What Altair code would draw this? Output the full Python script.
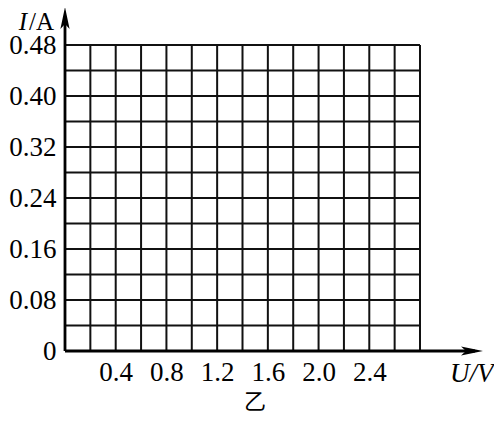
import altair as alt
import pandas as pd

# grid positions (U in volts, I in amperes)
x_grid = [0.0, 0.2, 0.4, 0.6, 0.8, 1.0, 1.2, 1.4, 1.6, 1.8, 2.0, 2.2, 2.4, 2.6, 2.8]
y_grid = [0.00, 0.04, 0.08, 0.12, 0.16, 0.20, 0.24, 0.28, 0.32, 0.36, 0.40, 0.44, 0.48]
x_ticks = [0.4, 0.8, 1.2, 1.6, 2.0, 2.4]
y_ticks = [0, 0.08, 0.16, 0.24, 0.32, 0.40, 0.48]

X_MAX = 2.8
Y_MAX = 0.48
W, H = 355, 306
FONT = "Liberation Serif"
INK = "#111111"

xs = alt.Scale(domain=[0, X_MAX], nice=False, zero=False)
ys = alt.Scale(domain=[0, Y_MAX], nice=False, zero=False)

vdf = pd.DataFrame({"x": x_grid, "y0": 0.0, "y1": Y_MAX})
hdf = pd.DataFrame({"y": y_grid, "x0": 0.0, "x1": X_MAX})

vert = alt.Chart(vdf).mark_rule(color=INK, strokeWidth=2).encode(
    x=alt.X("x:Q", scale=xs, axis=alt.Axis(
        values=x_ticks, format=".1f", title=None, domain=False, ticks=False,
        grid=False, labelFont=FONT, labelFontSize=27, labelColor="black",
        labelPadding=8)),
    y=alt.Y("y0:Q", scale=ys, axis=alt.Axis(
        values=y_ticks, title=None, domain=False, ticks=False, grid=False,
        labelExpr="datum.value == 0 ? '0' : format(datum.value, '.2f')",
        labelFont=FONT, labelFontSize=27, labelColor="black", labelPadding=9)),
    y2="y1:Q",
)

horiz = alt.Chart(hdf).mark_rule(color=INK, strokeWidth=2).encode(
    y=alt.Y("y:Q", scale=ys),
    x=alt.X("x0:Q", scale=xs),
    x2="x1:Q",
)

one = pd.DataFrame({"k": [0]})

x_axis_line = alt.Chart(one).mark_rule(color="black", strokeWidth=2.8).encode(
    x=alt.value(0), x2=alt.value(410), y=alt.value(H))
y_axis_line = alt.Chart(one).mark_rule(color="black", strokeWidth=2.8).encode(
    x=alt.value(0), y=alt.value(H), y2=alt.value(-22))

arrow_right = alt.Chart(one).mark_point(
    shape="M1,0 L-1,0.42 L-0.55,0 L-1,-0.42 Z", size=480, filled=True,
    color="black", opacity=1).encode(x=alt.value(407), y=alt.value(H))
arrow_up = alt.Chart(one).mark_point(
    shape="M0,-1 L0.42,1 L0,0.55 L-0.42,1 Z", size=480, filled=True,
    color="black", opacity=1).encode(x=alt.value(0), y=alt.value(-27))

t_I = alt.Chart(pd.DataFrame({"t": ["I"]})).mark_text(
    font=FONT, fontSize=25, fontStyle="italic", align="right",
    baseline="alphabetic", color="black").encode(
    text="t:N", x=alt.value(-38), y=alt.value(-15))
t_A = alt.Chart(pd.DataFrame({"t": ["/A"]})).mark_text(
    font=FONT, fontSize=25, align="left", baseline="alphabetic",
    color="black").encode(text="t:N", x=alt.value(-36), y=alt.value(-15))
t_UV = alt.Chart(pd.DataFrame({"t": ["U/V"]})).mark_text(
    font=FONT, fontSize=27, fontStyle="italic", align="left",
    baseline="alphabetic", color="black").encode(
    text="t:N", x=alt.value(385), y=alt.value(H + 31))
t_yi = alt.Chart(pd.DataFrame({"t": ["乙"]})).mark_text(
    font="Noto Sans CJK SC", fontSize=22, align="center",
    baseline="alphabetic", color="black").encode(
    text="t:N", x=alt.value(190), y=alt.value(H + 58))

chart = alt.layer(
    horiz, vert, x_axis_line, y_axis_line, arrow_right, arrow_up,
    t_I, t_A, t_UV, t_yi
).properties(
    width=W, height=H,
    autosize=alt.AutoSizeParams(type="none"),
    padding={"left": 57, "top": 37, "right": 74, "bottom": 63},
).configure_view(stroke=None).configure(background="white")

chart.save("out.html", embed_options={"renderer": "svg", "actions": False})
